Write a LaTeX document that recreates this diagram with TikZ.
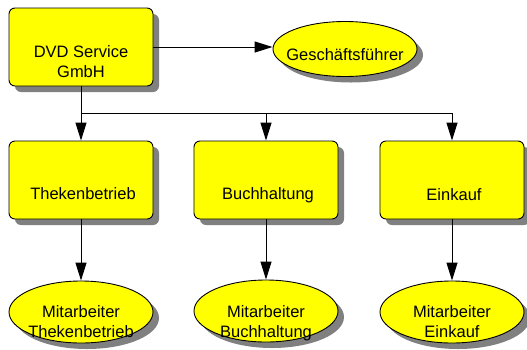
\documentclass[tikz,border=0pt]{standalone}
\usepackage{fontspec}
\setmainfont{Liberation Sans}
\usetikzlibrary{arrows.meta,shadows,calc,shapes.geometric}
\definecolor{boxyellow}{HTML}{FFFF00}
\definecolor{shadowgray}{HTML}{808080}
\tikzset{
  orgbox/.style={draw=black, line width=0.9pt, fill=boxyellow, rounded corners=6pt,
    minimum width=144pt, minimum height=78pt, inner sep=0pt,
    drop shadow={shadow xshift=6pt, shadow yshift=-6pt, fill=shadowgray, opacity=1}},
  orgell/.style={draw=black, line width=0.9pt, fill=boxyellow, ellipse,
    minimum width=144pt, inner sep=0pt,
    drop shadow={shadow xshift=6pt, shadow yshift=-6pt, fill=shadowgray, opacity=1}},
  lbl/.style={anchor=base, align=center, inner sep=0pt,
    font=\fontsize{16.5}{20}\selectfont},
  conn/.style={draw=black, line width=1pt, -{Triangle[length=18pt,width=11pt]}},
}
\begin{document}
\begin{tikzpicture}[x=1pt,y=-1pt]
\useasboundingbox (0,0) rectangle (527,349);
\node[orgbox] (dvd) at (81,47) {};
\node[orgell, minimum height=55pt] (gf) at (345,49) {};
\node[orgbox] (theke) at (81,180) {};
\node[orgbox] (buch) at (266,180) {};
\node[orgbox] (eink) at (452,180) {};
\node[orgell, minimum height=62pt] (mt) at (81,312) {};
\node[orgell, minimum height=62pt] (mb) at (266,311) {};
\node[orgell, minimum height=62pt] (me) at (452,312) {};

\node[lbl] (dvdt) at ($(dvd.center)+(0,30)$) {DVD Service\\GmbH};
\node[lbl] (gft) at ($(gf.center)+(0,11)$) {Geschäftsführer};
\node[lbl] (theket) at ($(theke.center)+(2,19)$) {Thekenbetrieb};
\node[lbl] (bucht) at ($(buch.center)+(2,19)$) {Buchhaltung};
\node[lbl] (einkt) at ($(eink.center)+(2,20)$) {Einkauf};
\node[lbl] (mtt) at ($(mt.center)+(0,25)$) {Mitarbeiter\\Thekenbetrieb};
\node[lbl] (mbt) at ($(mb.center)+(0,26)$) {Mitarbeiter\\Buchhaltung};
\node[lbl] (met) at ($(me.center)+(0,25)$) {Mitarbeiter\\Einkauf};

\coordinate (bus) at (0,113);
\draw[conn] (dvd.east) -- (dvd.east -| gf.west);
\draw[conn] (dvd.south) -- (theke.north);
\draw[conn] (dvd.south |- bus) -| (buch.north);
\draw[conn] (dvd.south |- bus) -| (eink.north);
\draw[conn] (theke.south) -- (mt.north);
\draw[conn] (buch.south) -- (mb.north);
\draw[conn] (eink.south) -- (me.north);
\end{tikzpicture}
\end{document}
